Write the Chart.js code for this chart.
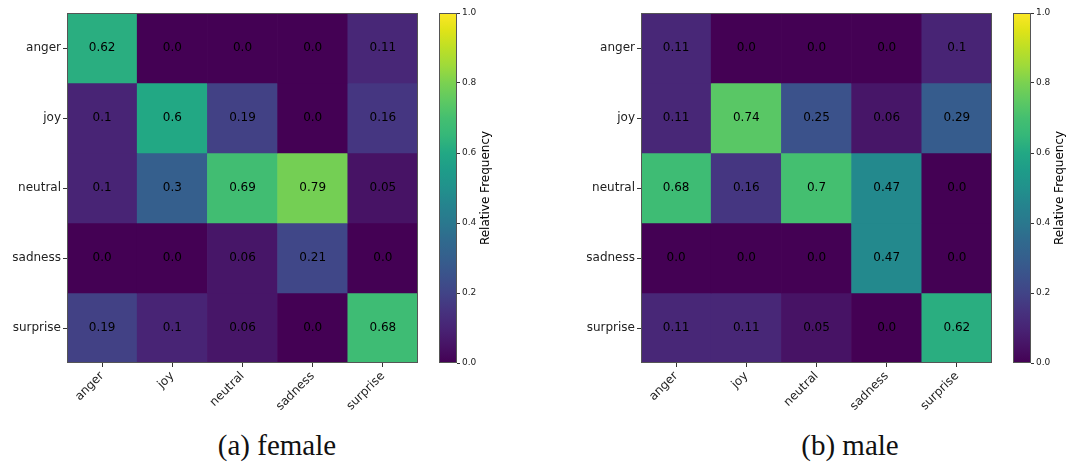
<!DOCTYPE html>
<html>
<head>
<meta charset="utf-8">
<script src="https://cdn.jsdelivr.net/npm/chart.js@4.4.1/dist/chart.umd.min.js"></script>
<style>
  body { margin: 0; background: #fff; overflow: hidden; }
  #wrap { position: relative; width: 1069px; height: 464px; overflow: hidden; }
  canvas { position: absolute; top: 0; }
  .caption {
    position: absolute; top: 429px; width: 300px; text-align: center;
    font-family: "Liberation Serif", "DejaVu Serif", serif; font-size: 29px; color: #111;
  }
</style>
</head>
<body>
<div id="wrap">
  <canvas id="femaleMap" width="425" height="420" style="left:0px"></canvas>
  <canvas id="femaleBar" width="66" height="420" style="left:429px"></canvas>
  <canvas id="maleMap" width="425" height="420" style="left:574px"></canvas>
  <canvas id="maleBar" width="66" height="420" style="left:1003px"></canvas>
  <div class="caption" style="left:127px">(a) female</div>
  <div class="caption" style="left:700px">(b) male</div>
</div>
<script>
// Categories (rows = true label, columns = predicted)
const emotions = ["anger", "joy", "neutral", "sadness", "surprise"];

// Female confusion matrix rows
const femaleAnger = [0.62, 0.0, 0.0, 0.0, 0.11];
const femaleJoy = [0.1, 0.6, 0.19, 0.0, 0.16];
const femaleNeutral = [0.1, 0.3, 0.69, 0.79, 0.05];
const femaleSadness = [0.0, 0.0, 0.06, 0.21, 0.0];
const femaleSurprise = [0.19, 0.1, 0.06, 0.0, 0.68];

// Male confusion matrix rows
const maleAnger = [0.11, 0.0, 0.0, 0.0, 0.1];
const maleJoy = [0.11, 0.74, 0.25, 0.06, 0.29];
const maleNeutral = [0.68, 0.16, 0.7, 0.47, 0.0];
const maleSadness = [0.0, 0.0, 0.0, 0.47, 0.0];
const maleSurprise = [0.11, 0.11, 0.05, 0.0, 0.62];

// Colorbar ticks
const colorbarTicks = [0.0, 0.2, 0.4, 0.6, 0.8, 1.0];

const femaleMatrix = [femaleAnger, femaleJoy, femaleNeutral, femaleSadness, femaleSurprise];
const maleMatrix = [maleAnger, maleJoy, maleNeutral, maleSadness, maleSurprise];

Chart.defaults.font.family = "'DejaVu Sans', sans-serif";
Chart.defaults.color = '#222';

// viridis stops every 0.05
const viridis = ['#440154', '#471365', '#482475', '#46337f', '#414487', '#3b528b', '#355f8d',
  '#306a8e', '#2a788e', '#25838e', '#21918c', '#1e9c89', '#22a884', '#35b779', '#44bf70',
  '#5ec962', '#7ad151', '#9fda3a', '#bddf26', '#dfe318', '#fde725'];

function hexToRgb(h) {
  return [parseInt(h.slice(1, 3), 16), parseInt(h.slice(3, 5), 16), parseInt(h.slice(5, 7), 16)];
}

function viridisColor(v) {
  const t = Math.max(0, Math.min(1, v)) * (viridis.length - 1);
  const i = Math.min(Math.floor(t), viridis.length - 2);
  const f = t - i;
  const a = hexToRgb(viridis[i]), b = hexToRgb(viridis[i + 1]);
  const c = a.map((x, k) => Math.round(x + (b[k] - x) * f));
  return `rgb(${c[0]},${c[1]},${c[2]})`;
}

function fmt(v) {
  return Number.isInteger(v) ? v.toFixed(1) : String(v);
}

// writes the value in each cell and a frame round the plot
const cellText = {
  id: 'cellText',
  afterDatasetsDraw(chart) {
    const ctx = chart.ctx;
    const matrix = chart.options.plugins.cellText.matrix;
    ctx.save();
    ctx.font = "12px 'DejaVu Sans'";
    ctx.fillStyle = '#000';
    ctx.textAlign = 'center';
    ctx.textBaseline = 'middle';
    chart.data.datasets.forEach((ds, i) => {
      chart.getDatasetMeta(i).data.forEach((bar, j) => {
        ctx.fillText(fmt(matrix[i][j]), bar.x, (bar.y + bar.base) / 2);
      });
    });
    const a = chart.chartArea;
    ctx.strokeStyle = '#555';
    ctx.lineWidth = 1;
    ctx.strokeRect(a.left + 0.5, a.top + 0.5, a.right - a.left - 1, a.bottom - a.top - 1);
    ctx.restore();
  }
};

function makeHeatmap(id, matrix) {
  new Chart(document.getElementById(id), {
    type: 'bar',
    data: {
      labels: emotions,
      datasets: matrix.map((row, i) => ({
        label: emotions[i],
        data: row.map(() => [i, i + 1]),
        backgroundColor: row.map(v => viridisColor(v)),
        borderWidth: 0,
        barPercentage: 1,
        categoryPercentage: 1
      }))
    },
    options: {
      responsive: false,
      animation: false,
      layout: { padding: { top: 13, right: 7, left: 0, bottom: 0 } },
      plugins: { legend: { display: false }, tooltip: { enabled: false }, cellText: { matrix: matrix } },
      scales: {
        x: {
          stacked: true,
          grid: { drawOnChartArea: false, offset: false, tickLength: 4, color: '#333' },
          border: { display: false },
          ticks: { autoSkip: false, minRotation: 45, maxRotation: 45, font: { size: 12 }, padding: 2 },
          afterFit(scale) { scale.height = 57; }
        },
        y: {
          stacked: false,
          min: 0, max: 5, reverse: true,
          grid: { drawOnChartArea: false, tickLength: 4, color: '#333' },
          border: { display: false },
          afterBuildTicks(scale) { scale.ticks = emotions.map((_, i) => ({ value: i + 0.5 })); },
          ticks: { font: { size: 12 }, padding: 2, callback: v => emotions[Math.floor(v)] },
          afterFit(scale) { scale.width = 67; }
        }
      }
    },
    plugins: [cellText]
  });
}

// colorbar title drawn bottom-to-top like matplotlib
const barTitle = {
  id: 'barTitle',
  afterDraw(chart) {
    const ctx = chart.ctx;
    const a = chart.chartArea;
    ctx.save();
    ctx.strokeStyle = '#555';
    ctx.strokeRect(a.left + 0.5, a.top + 0.5, a.right - a.left - 1, a.bottom - a.top - 1);
    ctx.translate(a.right + 29, (a.top + a.bottom) / 2);
    ctx.rotate(-Math.PI / 2);
    ctx.font = "12px 'DejaVu Sans'";
    ctx.fillStyle = '#000';
    ctx.textAlign = 'center';
    ctx.textBaseline = 'middle';
    ctx.fillText('Relative Frequency', 0, 0);
    ctx.restore();
  }
};

function makeColorbar(id) {
  new Chart(document.getElementById(id), {
    type: 'bar',
    data: {
      labels: [''],
      datasets: [{
        data: [[0, 1]],
        borderWidth: 0,
        barPercentage: 1,
        categoryPercentage: 1,
        backgroundColor(c) {
          const area = c.chart.chartArea;
          if (!area) return viridis[0];
          const g = c.chart.ctx.createLinearGradient(0, area.bottom, 0, area.top);
          viridis.forEach((col, k) => g.addColorStop(k / (viridis.length - 1), col));
          return g;
        }
      }]
    },
    options: {
      responsive: false,
      animation: false,
      layout: { padding: { top: 13, left: 10, bottom: 57, right: 0 } },
      plugins: { legend: { display: false }, tooltip: { enabled: false } },
      scales: {
        x: { display: false },
        y: {
          position: 'right', min: 0, max: 1,
          grid: { drawOnChartArea: false, tickLength: 3, color: '#333' },
          border: { display: false },
          afterBuildTicks(scale) { scale.ticks = colorbarTicks.map(v => ({ value: v })); },
          ticks: { font: { size: 9 }, padding: 2, callback: v => v.toFixed(1) },
          afterFit(scale) { scale.width = 38; }
        }
      }
    },
    plugins: [barTitle]
  });
}

makeHeatmap('femaleMap', femaleMatrix);
makeColorbar('femaleBar');
makeHeatmap('maleMap', maleMatrix);
makeColorbar('maleBar');
</script>
</body>
</html>
